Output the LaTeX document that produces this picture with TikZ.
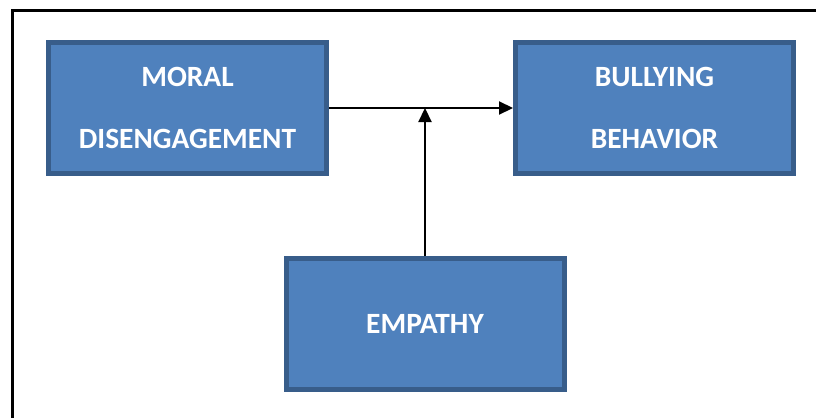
\documentclass[tikz,border=0pt]{standalone}
\usepackage{fontspec}
\setmainfont{Carlito}
\usetikzlibrary{arrows.meta}

\begin{document}
\begin{tikzpicture}[x=0.5pt,y=-0.5pt,>=Stealth,
  varbox/.style={draw=boxedge,fill=boxfill,line width=2.5pt,minimum width=139pt,minimum height=65.5pt,
    text=white,align=center,font=\fontsize{14.7}{31}\selectfont\bfseries},
  path/.style={line width=1.1pt,-{Triangle[length=7pt,width=6.5pt]}}]
\definecolor{boxfill}{HTML}{4F81BD}
\definecolor{boxedge}{HTML}{385D8A}
\useasboundingbox(0,0)rectangle(816,418);
\draw[line width=1.5pt](12,418)--(12,10)--(816,10);
\node[varbox](moral)at(187.5,108){MORAL\\DISENGAGEMENT};
\node[varbox](bullying)at(654.5,108){BULLYING\\BEHAVIOR};
\node[varbox](empathy)at(425,324){EMPATHY};
\coordinate(mid)at(425,108);
\draw[path](moral)--(bullying);
\draw[path](empathy)--(mid);
\end{tikzpicture}
\end{document}
